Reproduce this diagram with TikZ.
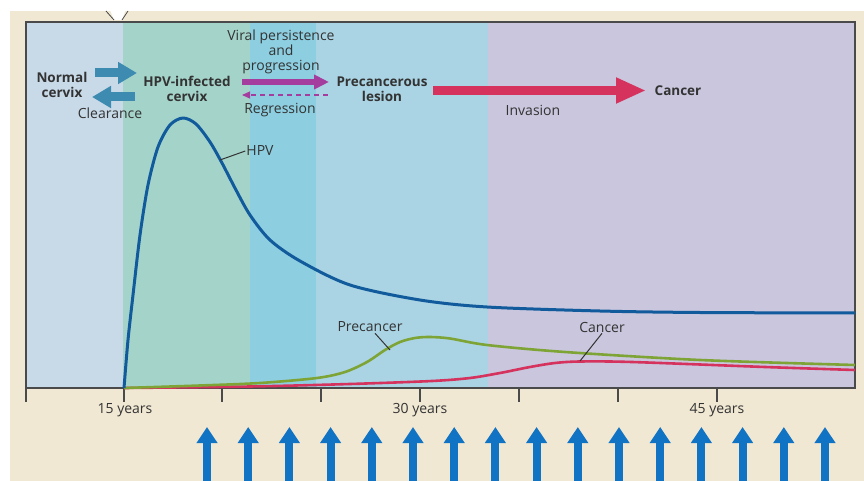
\documentclass[tikz,border=0pt]{standalone}
\usepackage{fontspec}
\setmainfont{Open Sans}
\usepackage{tikz}
\usetikzlibrary{arrows.meta,calc,positioning}
\definecolor{beige}{HTML}{F0E8D3}
\definecolor{bandA}{HTML}{C8D9E8}
\definecolor{bandB}{HTML}{A4D4C9}
\definecolor{bandC}{HTML}{8DCEE0}
\definecolor{bandD}{HTML}{AAD4E4}
\definecolor{bandE}{HTML}{C9C6DD}
\definecolor{hpvblue}{HTML}{115A9C}
\definecolor{preegreen}{HTML}{7EA436}
\definecolor{canred}{HTML}{D5325E}
\definecolor{clrblue}{HTML}{3E8BB2}
\definecolor{viralmag}{HTML}{A53D9F}
\definecolor{screenblue}{HTML}{1173C4}
\definecolor{txtgray}{HTML}{333333}
\definecolor{framegray}{HTML}{4A4A4A}
\tikzset{
    lbl/.style={font=\fontsize{14}{15}\selectfont,text=txtgray,inner sep=1pt,align=center},
    boldlbl/.style={lbl,font=\fontsize{13.5}{15}\selectfont\bfseries},
    curveline/.style={line width=2.6pt,line join=round},
    leader/.style={draw=txtgray,line width=1pt},
    frameline/.style={draw=framegray,line width=1.8pt},
    tickline/.style={draw=framegray,line width=1.6pt},
    clrarrow/.style={draw=clrblue,line width=9pt,-{Triangle[width=21pt,length=19pt]}},
    viralarrow/.style={draw=viralmag,line width=6pt,-{Triangle[width=14pt,length=15pt]}},
    regarrow/.style={draw=viralmag,line width=1.2pt,dash pattern=on 5pt off 4pt,-{Triangle[width=7pt,length=8pt]}},
    invarrow/.style={draw=canred,line width=9.5pt,-{Triangle[width=24pt,length=30pt]}},
    screenarrow/.style={draw=screenblue,line width=8pt,-{Triangle[width=20pt,length=16pt]}}
}
\begin{document}
\begin{tikzpicture}[x=1pt,y=-1pt]
  \useasboundingbox (0,0) rectangle (864,481);
  \fill[white] (0,0) rectangle (864,481);
  \fill[beige] (10,11) rectangle (864,481);
  % age bands
  \fill[bandA] (26,22) rectangle (123,388);
  \fill[bandB] (123,22) rectangle (250,388);
  \fill[bandC] (250,22) rectangle (316,388);
  \fill[bandD] (316,22) rectangle (488,388);
  \fill[bandE] (488,22) rectangle (855,388);
  % notch at the top
  \fill[white] (106,0) -- (114,20) -- (122,20) -- (129,0) -- cycle;
  \draw[framegray,line width=0.8pt] (106,11) -- (114,20);
  \draw[framegray,line width=0.8pt] (128,11) -- (122,20);
  \draw[frameline] (26,22) rectangle (855,388);
  % time axis
  \foreach \x in {26,124,222,321,420,519,618,717}{
    \draw[tickline] (\x,388) -- (\x,402);
  }
  \node[lbl] (age15) at (125,410) {15 years};
  \node[lbl] (age30) at (420,410) {30 years};
  \node[lbl] (age45) at (717,410) {45 years};
  % curves
  \draw[curveline,canred] plot[smooth,tension=0.5] coordinates {
    (124,388) (250,386.5) (350,384) (432,381) (470,378) (500,373) (530,367)
    (555,363) (580,361.5) (632,362) (765,367) (855,370)};
  \draw[curveline,preegreen] plot[smooth,tension=0.5] coordinates {
    (124,388) (200,385.5) (260,383) (317,378) (345,372) (367,362) (385,350)
    (400,342) (415,338) (430,337) (450,338.5) (487,345) (565,352) (700,360) (855,365)};
  \draw[curveline,hpvblue,line width=3pt] plot[smooth,tension=0.5] coordinates {
    (124,388) (128,340) (133,295) (140,235) (148,185) (158,147) (170,125) (183,118)
    (196,124) (210,142) (222,163) (236,190) (250,215) (270,240) (300,261) (350,285)
    (420,300) (487,307) (600,311) (700,312.5) (855,313)};
  % curve labels
  \node[lbl] (hpvlab) at (260,151) {HPV};
  \coordinate (hpvpt) at (220,160);
  \draw[leader] (hpvlab.west) -- (hpvpt);
  \node[lbl] (prelab) at (370,327) {Precancer};
  \coordinate (prept) at (390,350);
  \draw[leader] ($(prelab.south)+(5,0)$) -- (prept);
  \node[lbl] (canlab) at (602,327) {Cancer};
  \coordinate (canpt) at (580,361);
  \draw[leader] (canlab.south) -- (canpt);
  % stages
  \node[boldlbl] (normal) at (62,85) {Normal\\cervix};
  \node[boldlbl] (hpvinf) at (187,89) {HPV-infected\\cervix};
  \node[boldlbl] (lesion) at (382,89) {Precancerous\\lesion};
  \node[boldlbl] (cancer) at (678,91) {Cancer};
  \coordinate (infA) at (95,73);
  \coordinate (infB) at (137,73);
  \coordinate (clrA) at (135,97);
  \coordinate (clrB) at (92,97);
  \draw[clrarrow] (infA) -- (infB);
  \draw[clrarrow] (clrA) -- (clrB);
  \node[lbl] (clearance) at (110,113) {Clearance};
  \coordinate (virA) at (242,82);
  \coordinate (virB) at (329,82);
  \coordinate (regA) at (328,95);
  \coordinate (regB) at (242,95);
  \draw[viralarrow] (virA) -- (virB);
  \draw[regarrow] (regA) -- (regB);
  \node[lbl] (viral) at (281,52) {Viral persistence\\and\\progression};
  \node[lbl] (regression) at (280,110) {Regression};
  \coordinate (invA) at (433,90.5);
  \coordinate (invB) at (646,90.5);
  \draw[invarrow] (invA) -- (invB);
  \node[lbl] (invasion) at (533,110) {Invasion};
  % screening arrows
  \foreach \i in {0,...,15}{
    \draw[screenarrow] ({207+41.2*\i},481) -- ({207+41.2*\i},427);
  }
\end{tikzpicture}
\end{document}
